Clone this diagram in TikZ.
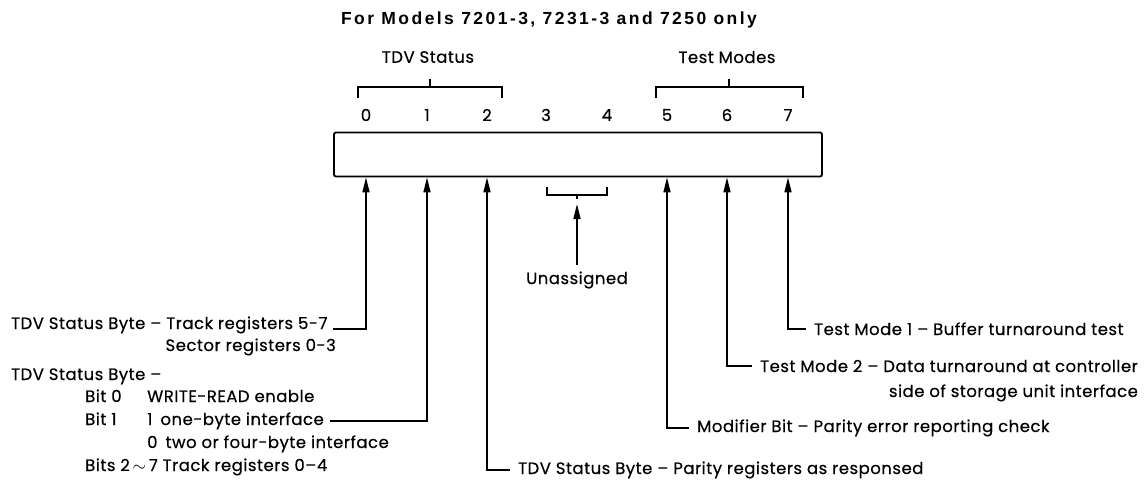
\documentclass[tikz,border=0pt]{standalone}
\usepackage{fontspec}
\setmainfont{Poppins}[LetterSpace=3,FakeBold=0.4]
\newfontfamily\titlefont[LetterSpace=14]{Liberation Sans}
\usetikzlibrary{arrows.meta,positioning}
\tikzset{
    every node/.style={font=\fontsize{16.5}{19}\selectfont,inner sep=0pt},
    heading/.style={font=\titlefont\bfseries\fontsize{17.5}{20}\selectfont},
    lbl/.style={anchor=base west},
    brace/.style={line width=1.5pt},
    register/.style={draw,line width=1.8pt,rounded corners=2pt,minimum width=488pt,minimum height=44pt},
    pointer/.style={line width=1.6pt,-{Triangle[length=15pt,width=7pt]}}
}
\begin{document}
\begin{tikzpicture}[x=1pt,y=-1pt]
    \useasboundingbox (0,0) rectangle (1144,483);
    \node[heading] (title) at (549,20) {For Models 7201-3, 7231-3 and 7250 only};
    \node (tdvlbl) at (428,57) {TDV Status};
    \node (testlbl) at (727,57) {Test Modes};
    \draw[brace] (358,98) |- (502,87) -- (502,98);
    \draw[brace] (430,87) -- (430,79);
    \draw[brace] (656,98) |- (803,87) -- (803,98);
    \draw[brace] (729,87) -- (729,79);
    \node[register] (reg) at (578,154.5) {};
    \foreach \b/\x in {0/366,1/427,2/487,3/546,4/607,5/667,6/727,7/788}
        \node (b\b) at (\x,115) {\b};
    % bits 3-4
    \draw[brace] (547,187) |- (607,195) -- (607,187);
    \coordinate (unbr) at (577,199);
    \draw[brace] (577,195) -- (unbr);
    \node (unas) at (577,280) {Unassigned};
    \draw[pointer,shorten <=6pt,shorten >=5pt] (unas.north) -- (unbr);
    % left labels
    \node[lbl] (trk57) at (11,329) {TDV Status Byte -- Track registers 5-7};
    \node[anchor=base east] (sec03) at (336,351) {Sector registers 0-3};
    \node[lbl] (tdvbyte) at (11,380) {TDV Status Byte --};
    \node[lbl] (bit0) at (85,402) {Bit 0};
    \node[lbl] (wrrd) at (147,402) {WRITE-READ enable};
    \node[lbl] (bit1) at (85,425) {Bit 1};
    \node[lbl] (onebyte) at (147,425) {1\hspace{8pt}one-byte interface};
    \node[lbl] (twobyte) at (147,448) {0\hspace{8pt}two or four-byte interface};
    \node[lbl] (bits27) at (85,471) {Bits 2\,$\sim$\,7 Track registers 0--4};
    \node[lbl] (parity) at (518,474) {TDV Status Byte -- Parity registers as responsed};
    % right labels
    \node[lbl] (modif) at (697,432) {Modifier Bit -- Parity error reporting check};
    \node[lbl] (tmode2) at (760,372) {Test Mode 2 -- Data turnaround at controller};
    \node[anchor=base east] (tmode2b) at ([yshift=-25pt]tmode2.base east) {side of storage unit interface};
    \node[lbl] (tmode1) at (814,335) {Test Mode 1 -- Buffer turnaround test};
    % pointers
    \draw[pointer,shorten <=5pt] (trk57.base east) -| (b0 |- reg.south);
    \draw[pointer,shorten <=6pt] (onebyte.east) -| (b1 |- reg.south);
    \draw[pointer,shorten <=8pt] (parity.west) -| (b2 |- reg.south);
    \draw[pointer,shorten <=8pt] (modif.west) -| (b5 |- reg.south);
    \draw[pointer,shorten <=8pt] (tmode2.west) -| (b6 |- reg.south);
    \draw[pointer,shorten <=8pt] (tmode1.west) -| (b7 |- reg.south);
\end{tikzpicture}
\end{document}
